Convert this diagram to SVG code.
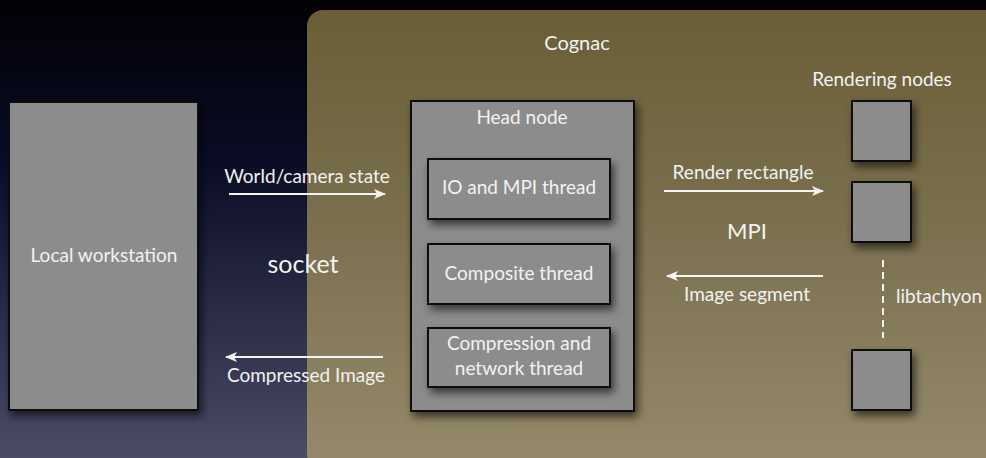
<svg xmlns="http://www.w3.org/2000/svg" width="986" height="458" viewBox="0 0 986 458">
<defs>
<linearGradient id="bg" x1="0" y1="0" x2="0" y2="1">
<stop offset="0" stop-color="#010104"/>
<stop offset="0.35" stop-color="#0a0c26"/>
<stop offset="1" stop-color="#4a4b65"/>
</linearGradient>
<linearGradient id="panel" x1="0" y1="0" x2="0" y2="1">
<stop offset="0" stop-color="#6a5e36"/>
<stop offset="0.5" stop-color="#7c7150"/>
<stop offset="1" stop-color="#958a6b"/>
</linearGradient>
<filter id="shadow" x="-20%" y="-20%" width="150%" height="150%">
<feDropShadow dx="3" dy="5" stdDeviation="4" flood-color="#000" flood-opacity="0.6"/>
</filter>
<marker id="arrow" viewBox="0 0 12 10" refX="11" refY="5" markerWidth="12" markerHeight="10" markerUnits="userSpaceOnUse" orient="auto-start-reverse">
<path d="M0,0 L12,5 L0,10 L3,5 Z" fill="#f4f4f4"/>
</marker>
<style>
.box{fill:#8c8c8c;stroke:#0d0d0d;stroke-width:2;filter:url(#shadow)}
.t{font-family:Lato,"Open Sans","DejaVu Sans",sans-serif;fill:#f2f2f2;text-anchor:middle;font-size:19px}
.conn{stroke:#f4f4f4;stroke-width:2;fill:none}
</style>
</defs>
<rect width="986" height="458" fill="url(#bg)"/>
<g id="cognac">
<rect x="307" y="10" width="700" height="460" rx="16" fill="url(#panel)"/>
<text class="t" x="577" y="50" style="font-size:20px">Cognac</text>
</g>
<g id="local-workstation">
<rect class="box" x="9" y="102" width="189" height="308"/>
<text class="t" x="104" y="262">Local workstation</text>
</g>
<g id="head-node">
<rect class="box" x="411" y="101" width="223" height="310"/>
<text class="t" x="522" y="124">Head node</text>
</g>
<g id="io-mpi-thread">
<rect class="box" x="428" y="159" width="182" height="60"/>
<text class="t" x="519" y="194">IO and MPI thread</text>
</g>
<g id="composite-thread">
<rect class="box" x="428" y="244" width="182" height="60"/>
<text class="t" x="519" y="280">Composite thread</text>
</g>
<g id="compression-thread">
<rect class="box" x="428" y="328" width="182" height="59"/>
<text class="t" x="519" y="350">Compression and</text>
<text class="t" x="519" y="375">network thread</text>
</g>
<g id="rendering-nodes-label">
<text class="t" x="882" y="86">Rendering nodes</text>
</g>
<g id="render-node-1"><rect class="box" x="852" y="101" width="59" height="60"/></g>
<g id="render-node-2"><rect class="box" x="852" y="182" width="59" height="60"/></g>
<g id="render-node-3"><rect class="box" x="852" y="350" width="59" height="60"/></g>
<g id="connectors">
<line class="conn" x1="229" y1="194" x2="385" y2="194" marker-end="url(#arrow)"/>
<text class="t" x="307" y="183">World/camera state</text>
<text class="t" x="303" y="273" style="font-size:25px">socket</text>
<line class="conn" x1="383" y1="357" x2="226" y2="357" marker-end="url(#arrow)"/>
<text class="t" x="306" y="382">Compressed Image</text>
<line class="conn" x1="664" y1="191" x2="823" y2="191" marker-end="url(#arrow)"/>
<text class="t" x="743" y="179">Render rectangle</text>
<text class="t" x="747" y="239" style="font-size:22px">MPI</text>
<line class="conn" x1="823" y1="276" x2="667" y2="276" marker-end="url(#arrow)"/>
<text class="t" x="747" y="301">Image segment</text>
<line class="conn" x1="883" y1="260" x2="883" y2="338" stroke-dasharray="7,5"/>
<text class="t" x="896" y="303" style="text-anchor:start">libtachyon</text>
</g>
</svg>
